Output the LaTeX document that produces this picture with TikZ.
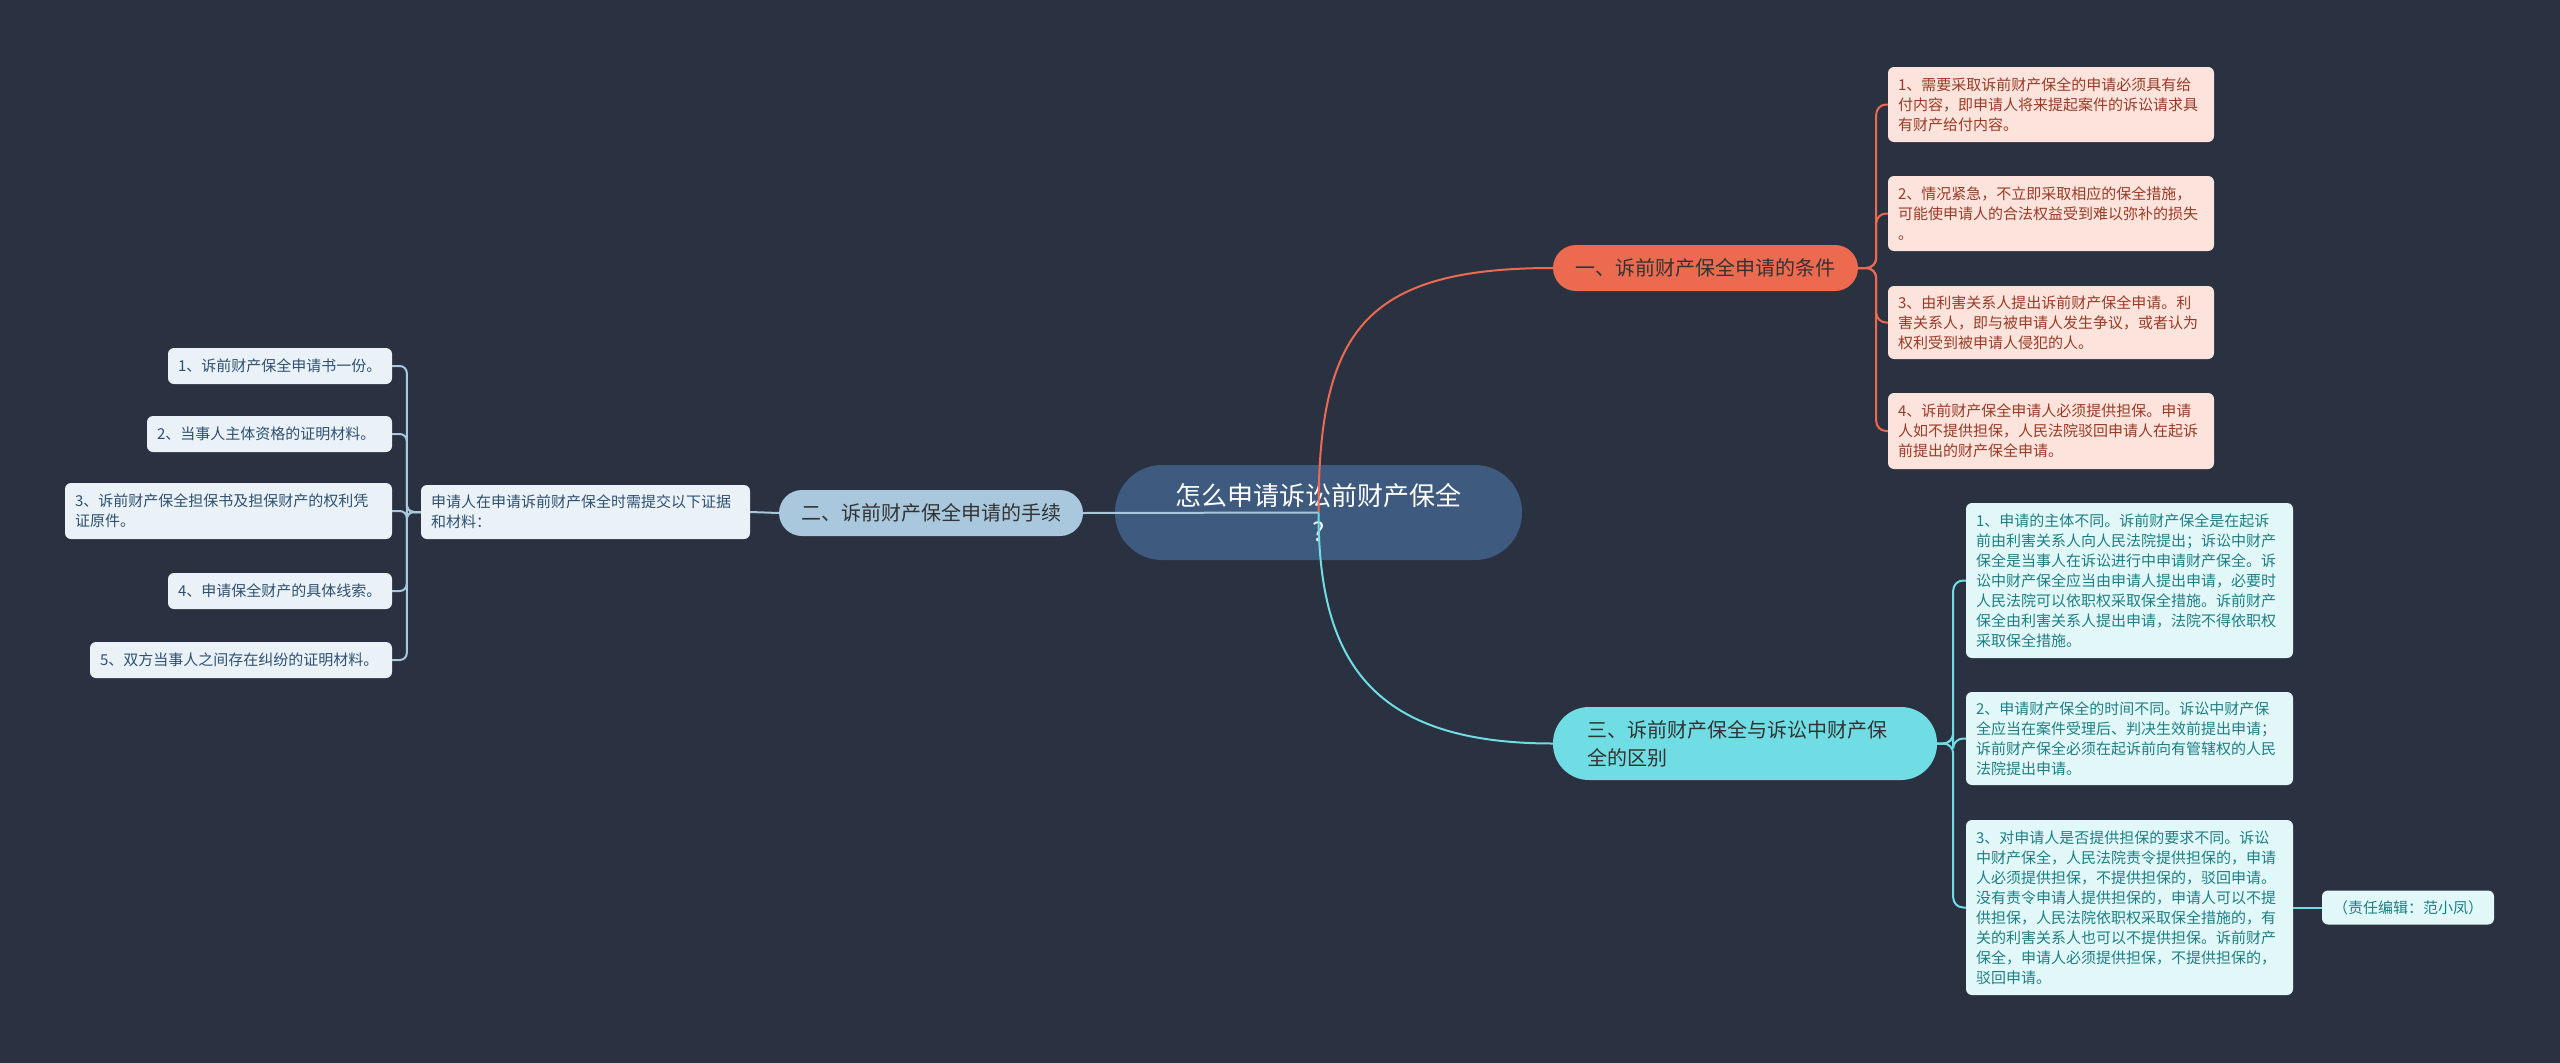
\documentclass[tikz,border=0pt]{standalone}
\usepackage{fontspec}
\newfontfamily\cjk{Noto Sans CJK SC}
\usepackage{tikz}

\definecolor{bgcol}{HTML}{2A3140}
\definecolor{rootcol}{HTML}{3E5A7E}
\definecolor{orangecol}{HTML}{EC6A50}
\definecolor{bluecol}{HTML}{A9C8DE}
\definecolor{cyancol}{HTML}{6FDDE3}
\definecolor{pinkfill}{HTML}{FCE4DC}
\definecolor{pinktext}{HTML}{9A3A26}
\definecolor{palefill}{HTML}{EAF2F8}
\definecolor{paletext}{HTML}{2F5070}
\definecolor{aquafill}{HTML}{E2F8F8}
\definecolor{aquatext}{HTML}{1D7F85}

\begin{document}
\begin{tikzpicture}[
        x=1pt, y=-1pt,
        every node/.style = {
            inner sep=0pt,
            font=\cjk
        },
        rootnode/.style = {
            fill=rootcol, text=white,
            rounded corners=47pt,
            minimum width=407pt, minimum height=95pt,
            align=center,
            font=\cjk\fontsize{26}{36}\selectfont
        },
        branch/.style = {
            rounded corners=23pt,
            minimum height=46pt,
            text=black!80,
            font=\cjk\fontsize{20}{28}\selectfont
        },
        leaf/.style = {
            rounded corners=6pt,
            inner xsep=10pt,
            align=left,
            font=\cjk\fontsize{15}{20}\selectfont
        },
        leafred/.style = {leaf, fill=pinkfill, text=pinktext, text width=306pt},
        leafpale/.style = {leaf, fill=palefill, text=paletext},
        leafaqua/.style = {leaf, fill=aquafill, text=aquatext},
        linkred/.style = {draw=orangecol, line width=2pt, rounded corners=10pt},
        linkblue/.style = {draw=bluecol, line width=2pt, rounded corners=7pt},
        linkaqua/.style = {draw=cyancol, line width=2pt, rounded corners=10pt}
    ]
    \fill[bgcol] (0,0) rectangle (2560,1063);
    \useasboundingbox (0,0) rectangle (2560,1063);

    \node[rootnode] (root) at (1318.5,512.5) {怎么申请诉讼前财产保全\\?};

    \node[branch, fill=orangecol, minimum width=305pt] (cond) at (1705.5,268) {一、诉前财产保全申请的条件};
    \node[branch, fill=bluecol, minimum width=304pt] (proc) at (931,513) {二、诉前财产保全申请的手续};
    \node[branch, fill=cyancol, minimum height=73pt, rounded corners=36pt,
          text width=316pt, inner xsep=34pt, align=left] (diff) at (1745,743.5)
        {三、诉前财产保全与诉讼中财产保\\全的区别};

    \node[leafred, minimum height=75pt] (condA) at (2051,104.5)
        {1、需要采取诉前财产保全的申请必须具有给\\付内容，即申请人将来提起案件的诉讼请求具\\有财产给付内容。};
    \node[leafred, minimum height=75pt] (condB) at (2051,213.5)
        {2、情况紧急，不立即采取相应的保全措施，\\可能使申请人的合法权益受到难以弥补的损失\\。};
    \node[leafred, minimum height=73pt] (condC) at (2051,322.5)
        {3、由利害关系人提出诉前财产保全申请。利\\害关系人，即与被申请人发生争议，或者认为\\权利受到被申请人侵犯的人。};
    \node[leafred, minimum height=76pt] (condD) at (2051,431)
        {4、诉前财产保全申请人必须提供担保。申请\\人如不提供担保，人民法院驳回申请人在起诉\\前提出的财产保全申请。};

    \node[leafpale, text width=309pt, minimum height=54pt] (need) at (585.5,512)
        {申请人在申请诉前财产保全时需提交以下证据\\和材料：};
    \node[leafpale, text width=204pt, minimum height=36pt] (needA) at (280,366) {1、诉前财产保全申请书一份。};
    \node[leafpale, text width=225pt, minimum height=36pt] (needB) at (269.5,434) {2、当事人主体资格的证明材料。};
    \node[leafpale, text width=307pt, minimum height=56pt] (needC) at (228.5,511)
        {3、诉前财产保全担保书及担保财产的权利凭\\证原件。};
    \node[leafpale, text width=204pt, minimum height=36pt] (needD) at (280,591) {4、申请保全财产的具体线索。};
    \node[leafpale, text width=282pt, minimum height=36pt] (needE) at (241,660) {5、双方当事人之间存在纠纷的证明材料。};

    \node[leafaqua, text width=307pt, minimum height=155pt] (diffA) at (2129.5,580.5)
        {1、申请的主体不同。诉前财产保全是在起诉\\前由利害关系人向人民法院提出；诉讼中财产\\保全是当事人在诉讼进行中申请财产保全。诉\\讼中财产保全应当由申请人提出申请，必要时\\人民法院可以依职权采取保全措施。诉前财产\\保全由利害关系人提出申请，法院不得依职权\\采取保全措施。};
    \node[leafaqua, text width=307pt, minimum height=93pt] (diffB) at (2129.5,738.5)
        {2、申请财产保全的时间不同。诉讼中财产保\\全应当在案件受理后、判决生效前提出申请；\\诉前财产保全必须在起诉前向有管辖权的人民\\法院提出申请。};
    \node[leafaqua, text width=307pt, minimum height=175pt] (diffC) at (2129.5,907.5)
        {3、对申请人是否提供担保的要求不同。诉讼\\中财产保全，人民法院责令提供担保的，申请\\人必须提供担保，不提供担保的，驳回申请。\\没有责令申请人提供担保的，申请人可以不提\\供担保，人民法院依职权采取保全措施的，有\\关的利害关系人也可以不提供担保。诉前财产\\保全，申请人必须提供担保，不提供担保的，\\驳回申请。};
    \node[leafaqua, minimum width=172pt, minimum height=34pt, align=center] (editor) at (2408,907.5)
        {（责任编辑：范小凤）};

    \draw[linkred] (root.center) .. controls +(0,-180) and +(-190,0) .. (cond.west);
    \draw[linkblue] (root.center) -- (proc.east);
    \draw[linkaqua] (root.center) .. controls +(0,150) and +(-180,0) .. (diff.west);

    \foreach \n in {condA,condB,condC,condD}
        \draw[linkred] (cond.east) -- ++(18,0) |- (\n.west);
    \draw[linkblue] (proc.west) -- (need.east);
    \foreach \n in {needA,needB,needC,needD,needE}
        \draw[linkblue] (need.west) -- ++(-14,0) |- (\n.east);
    \foreach \n in {diffA,diffB,diffC}
        \draw[linkaqua] (diff.east) -- ++(16,0) |- (\n.west);
    \draw[linkaqua] (diffC.east) -- (editor.west);
\end{tikzpicture}
\end{document}
